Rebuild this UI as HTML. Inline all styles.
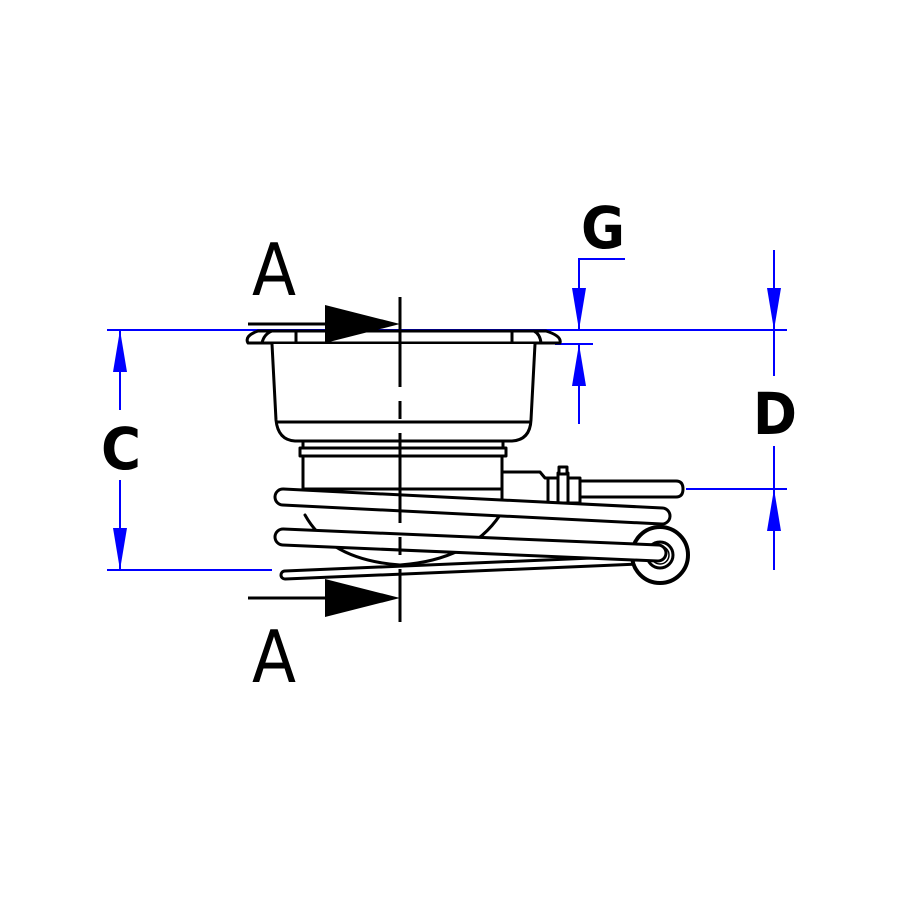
<!DOCTYPE html>
<html><head><style>body{margin:0;background:#fff}svg{display:block}</style></head><body>
<svg width="900" height="900" viewBox="0 0 900 900" xmlns="http://www.w3.org/2000/svg">
<rect width="900" height="900" fill="#fff"/>
<g stroke="#00f" stroke-width="2" fill="none">
<line x1="107" y1="330" x2="787" y2="330"/>
<line x1="107" y1="570" x2="272" y2="570"/>
<line x1="120" y1="330" x2="120" y2="410"/>
<line x1="120" y1="480" x2="120" y2="570"/>
<line x1="774" y1="250" x2="774" y2="330"/>
<line x1="774" y1="330" x2="774" y2="376"/>
<line x1="774" y1="446" x2="774" y2="570"/>
<line x1="686" y1="489" x2="787" y2="489"/>
<polyline points="625,259 579,259 579,330"/>
<line x1="555" y1="344" x2="593" y2="344"/>
<line x1="579" y1="344" x2="579" y2="424"/>
</g>
<g fill="#00f">
<polygon points="113,372 127,372 120,330"/>
<polygon points="113,528 127,528 120,570"/>
<polygon points="767,288 781,288 774,330"/>
<polygon points="767,531 781,531 774,489"/>
<polygon points="572,288 586,288 579,330"/>
<polygon points="572,386 586,386 579,344"/>
</g>
<g stroke="#000" stroke-width="3" fill="none" stroke-linejoin="round" stroke-linecap="round">
<!-- flange -->
<path d="M258,331 L546,331 Q562,336 560,343 L248,343 Q244,336 258,331 Z" fill="#fff"/>
<path d="M262,343 Q264,334 272,331 M541,343 Q540,334 534,331 M296,331 L296,343 M512,331 L512,343"/>
<!-- bowl -->
<path d="M272,344 L276,420 Q278,440 295,441 L512,441 Q530,440 531,420 L535,344" fill="#fff"/>
<line x1="277" y1="422" x2="529" y2="422"/>
<!-- collar -->
<rect x="300" y="448" width="206" height="8" fill="#fff"/>
<path d="M303,441 L303,448 M503,441 L503,448 M303,456 L303,490 M502,456 L502,490"/>
<line x1="303" y1="489" x2="502" y2="489"/>
<!-- dome -->
<path d="M305,515 Q330,560 400,565 Q470,560 500,515"/>
<!-- fitting -->
<path d="M502,472 L540,472 L545,478 L548,478 L548,503 L502,503 Z" fill="#fff"/>
<rect x="548" y="478" width="10" height="25" fill="#fff"/>
<rect x="558" y="473" width="10" height="30" fill="#fff"/>
<rect x="568" y="478" width="12" height="25" fill="#fff"/>
<rect x="559" y="467" width="8" height="7" fill="#fff"/>
<path d="M580,481 L676,481 Q683,481 683,489 Q683,497 676,497 L580,497"/>
<!-- bottom thin coil -->
<path d="M285,575 L640,560" stroke-width="11"/>
<path d="M285,575 L640,560" stroke="#fff" stroke-width="5"/>
<!-- ring -->
<circle cx="660" cy="555" r="28" fill="#fff" stroke-width="4"/>
<circle cx="660" cy="555" r="13" fill="#fff" stroke-width="3"/>
<circle cx="660" cy="555" r="9" fill="none" stroke-width="1.5"/>
<!-- coil 2 -->
<path d="M283,537 L658,553" stroke-width="19"/>
<path d="M283,537 L658,553" stroke="#fff" stroke-width="13"/>
<!-- coil 1 -->
<path d="M283,497 L662,516" stroke-width="19"/>
<path d="M283,497 L662,516" stroke="#fff" stroke-width="13"/>
</g>
<!-- centerline -->
<line x1="400" y1="297" x2="400" y2="622" stroke="#000" stroke-width="3" stroke-dasharray="90,14,18,14"/>
<!-- section arrows -->
<g stroke="#000" stroke-width="3">
<line x1="248" y1="324" x2="330" y2="324"/>
<line x1="248" y1="598" x2="330" y2="598"/>
</g>
<polygon points="325,305 400,324 325,343" fill="#000"/>
<polygon points="325,579 400,598 325,617" fill="#000"/>
<g font-family="'DejaVu Sans Condensed','DejaVu Sans',sans-serif" fill="#000">
<text x="252" y="295" font-size="72" textLength="44" lengthAdjust="spacingAndGlyphs">A</text>
<text x="252" y="682" font-size="72" textLength="44" lengthAdjust="spacingAndGlyphs">A</text>
<text x="581" y="248" font-size="58" font-weight="bold" textLength="44" lengthAdjust="spacingAndGlyphs">G</text>
<text x="101" y="469" font-size="58" font-weight="bold" textLength="40" lengthAdjust="spacingAndGlyphs">C</text>
<text x="753" y="434" font-size="58" font-weight="bold" textLength="44" lengthAdjust="spacingAndGlyphs">D</text>
</g>
</svg>
</body></html>
